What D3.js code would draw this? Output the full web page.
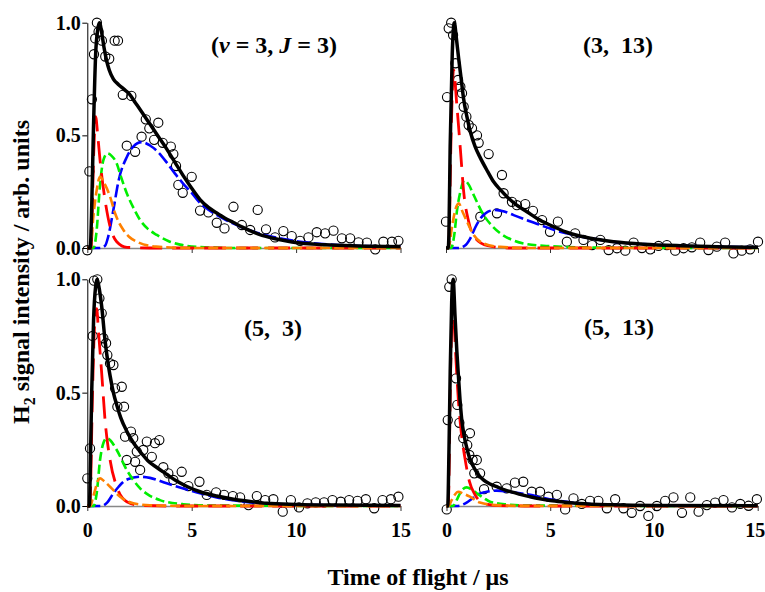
<!DOCTYPE html>
<html><head><meta charset="utf-8">
<script src="https://cdn.jsdelivr.net/npm/d3@7"></script>
<style>
body{margin:0;background:#fff}
svg{display:block}
text{font-family:"Liberation Serif","Times New Roman",serif;font-weight:bold;white-space:pre}
</style></head><body>
<svg id="c" width="765" height="592"></svg>
<script>
// ---------- tick labels ----------
const xTicks = [0, 5, 10, 15];
const yTicks = [0, 0.5, 1.0];
const panelTitles = ["(v = 3, J = 3)", "(3,  13)", "(5,  3)", "(5,  13)"];
const xTitle = "Time of flight / \u03bcs";
const yTitle = ["H", "2", " signal intensity / arb. units"];

// ---------- panel 1: (v=3, J=3) ----------
const p1Data = [[0.0,-0.01],[0.1,0.34],[0.22,0.66],[0.32,0.86],[0.38,0.93],[0.46,1.0],[0.54,0.96],[0.70,0.92],[0.86,0.85],[1.05,0.84],[1.31,0.92],[1.47,0.92],[1.70,0.68],[1.89,0.454],[2.11,0.675],[2.29,0.427],[2.6,0.494],[2.8,0.571],[2.97,0.531],[3.2,0.48],[3.4,0.556],[3.61,0.467],[4.0,0.45],[4.12,0.417],[4.25,0.364],[4.36,0.28],[4.57,0.245],[5.0,0.316],[5.4,0.166],[5.8,0.158],[6.2,0.112],[6.57,0.087],[7.0,0.183],[7.4,0.102],[7.8,0.08],[8.16,0.169],[8.56,0.083],[8.99,0.047],[9.39,0.075],[9.79,0.053],[10.19,0.032],[10.59,0.047],[10.99,0.07],[11.39,0.065],[11.79,0.077],[12.19,0.043],[12.59,0.043],[12.99,0.025],[13.39,0.024],[13.79,-0.006],[14.18,0.028],[14.59,0.028],[14.9,0.032]];
const p1Total = [[0,0],[0.14,0],[0.2,0.14],[0.29,0.51],[0.4,0.86],[0.5,0.97],[0.58,1.0],[0.7,0.95],[0.8,0.89],[0.93,0.83],[1.05,0.79],[1.25,0.75],[1.5,0.725],[1.75,0.705],[2.0,0.685],[2.3,0.645],[2.6,0.605],[3.0,0.55],[3.4,0.495],[3.8,0.44],[4.2,0.38],[4.6,0.32],[5.0,0.265],[5.4,0.215],[5.8,0.18],[6.2,0.155],[6.6,0.132],[7.0,0.113],[7.4,0.094],[8.2,0.062],[9.0,0.041],[9.8,0.027],[11.4,0.014],[13,0.009],[15,0.006]];
const p1Red = [[0,0],[0.18,0],[0.3,0.4],[0.4,0.583],[0.5,0.5],[0.61,0.39],[0.85,0.213],[1.09,0.095],[1.41,0.028],[1.9,0.003],[3,0],[15,0]];
const p1Orange = [[0,0],[0.15,0],[0.29,0.14],[0.45,0.257],[0.61,0.316],[0.8,0.29],[1.09,0.228],[1.33,0.154],[1.73,0.08],[2.0,0.05],[2.37,0.028],[3.3,0.006],[5,0],[15,0]];
const p1Green = [[0,0],[0.3,0],[0.45,0.08],[0.6,0.27],[0.77,0.39],[0.96,0.42],[1.15,0.41],[1.41,0.375],[1.6,0.32],[1.89,0.243],[2.2,0.18],[2.53,0.124],[2.9,0.085],[3.33,0.058],[3.9,0.03],[4.44,0.015],[5.4,0.004],[7,0],[15,0]];
const p1Blue = [[0,0],[0.6,0],[0.85,0.01],[1.0,0.05],[1.25,0.17],[1.5,0.3],[1.9,0.405],[2.2,0.45],[2.6,0.47],[3.0,0.455],[3.4,0.425],[3.8,0.38],[4.2,0.33],[4.6,0.285],[5.0,0.245],[5.4,0.2],[5.8,0.17],[6.2,0.147],[6.6,0.126],[7.0,0.108],[7.8,0.078],[8.6,0.055],[9.4,0.04],[10.2,0.028],[11.8,0.014],[13,0.009],[15,0.006]];

// ---------- panel 2: (3, 13) ----------
const p2Data = [[0,0.117],[0.05,0.67],[0.13,0.975],[0.25,1.0],[0.34,0.945],[0.45,0.82],[0.58,0.746],[0.69,0.716],[0.77,0.687],[0.85,0.627],[0.98,0.583],[1.09,0.546],[1.25,0.531],[1.49,0.50],[1.57,0.467],[1.65,0.139],[2.05,0.417],[2.45,0.154],[2.69,0.324],[2.77,0.243],[3.17,0.205],[3.41,0.19],[3.81,0.195],[4.18,0.165],[4.62,0.124],[5.0,0.072],[5.38,0.117],[5.81,0.028],[6.21,0.065],[6.61,0.036],[7.02,0.013],[7.42,0.036],[7.82,-0.009],[8.22,-0.001],[8.62,-0.012],[9.02,0.024],[9.42,0],[9.82,-0.006],[10.22,0.009],[10.62,0.013],[11.02,-0.012],[11.42,-0.001],[11.82,0.003],[12.22,0.024],[12.62,-0.009],[13.02,0.006],[13.42,0.024],[13.82,-0.024],[14.22,-0.012],[14.62,-0.006],[15,0.028]];
const p2Total = [[0,0],[0.11,0],[0.14,0.06],[0.2,0.45],[0.3,0.86],[0.4,1.0],[0.5,0.93],[0.61,0.84],[0.73,0.75],[0.85,0.66],[1.0,0.585],[1.17,0.516],[1.4,0.45],[1.65,0.40],[2.0,0.34],[2.29,0.294],[2.6,0.26],[2.93,0.228],[3.4,0.19],[3.89,0.161],[4.4,0.13],[5.0,0.102],[5.8,0.07],[6.94,0.043],[8.06,0.028],[9.5,0.017],[11.27,0.01],[13,0.006],[15,0.003]];
const p2Red = [[0,0],[0.12,0],[0.25,0.52],[0.36,0.79],[0.52,0.635],[0.69,0.44],[0.85,0.25],[1.09,0.117],[1.41,0.043],[2.0,0.01],[3,0],[15,0]];
const p2Orange = [[0,0],[0.12,0],[0.29,0.095],[0.45,0.17],[0.61,0.198],[0.8,0.16],[1.01,0.117],[1.33,0.058],[1.81,0.02],[2.6,0.005],[4,0],[15,0]];
const p2Green = [[0,0],[0.25,0],[0.4,0.06],[0.52,0.16],[0.69,0.25],[0.88,0.30],[1.1,0.28],[1.33,0.235],[1.81,0.146],[2.2,0.1],[2.61,0.065],[3.2,0.035],[3.73,0.02],[5,0.008],[7,0.002],[15,0]];
const p2Blue = [[0,0],[0.6,0],[0.9,0.01],[1.17,0.043],[1.4,0.09],[1.65,0.13],[2.0,0.16],[2.37,0.169],[2.8,0.162],[3.25,0.146],[3.9,0.123],[4.53,0.102],[5.2,0.08],[5.81,0.065],[6.94,0.043],[8,0.028],[9.5,0.017],[11.3,0.01],[13,0.006],[15,0.003]];

// ---------- panel 3: (5, 3) ----------
const p3Data = [[0,0.122],[0.13,0.254],[0.26,0.75],[0.32,0.994],[0.48,1.0],[0.58,0.916],[0.69,0.85],[0.77,0.74],[0.9,0.718],[0.96,0.666],[1.09,0.629],[1.25,0.622],[1.33,0.519],[1.44,0.438],[1.65,0.526],[1.76,0.438],[1.81,0.306],[1.89,0.203],[2.09,0.328],[2.2,0.299],[2.29,0.195],[2.37,0.24],[2.53,0.159],[2.68,0.247],[2.85,0.284],[3.09,0.217],[3.24,0.277],[3.45,0.291],[3.64,0.171],[3.88,0.144],[4.12,0.115],[4.52,0.151],[4.84,0.088],[5.37,0.107],[5.72,0.049],[6.17,0.06],[6.55,0.049],[6.97,0.044],[7.32,0.038],[7.72,0.004],[8.12,0.044],[8.52,0.026],[8.91,0.03],[9.36,-0.025],[9.75,0.026],[10.14,-0.006],[10.54,0.012],[10.94,0.016],[11.34,0.016],[11.74,0.026],[12.14,0.019],[12.54,0.026],[12.94,0.023],[13.34,0.03],[13.74,-0.01],[14.14,0.026],[14.54,0.03],[14.9,0.041]];
const p3Total = [[0,0],[0.1,0],[0.15,0.2],[0.21,0.497],[0.3,0.82],[0.4,0.97],[0.47,1.0],[0.55,0.97],[0.69,0.88],[0.85,0.73],[1.0,0.625],[1.09,0.575],[1.25,0.5],[1.41,0.445],[1.6,0.39],[1.89,0.33],[2.2,0.28],[2.53,0.24],[2.9,0.2],[3.33,0.17],[3.8,0.14],[4.28,0.11],[4.8,0.085],[5.4,0.063],[6.2,0.044],[7.0,0.03],[7.8,0.02],[8.6,0.012],[10,0.007],[11.8,0.004],[15,0.002]];
const p3Red = [[0,0],[0.12,0],[0.25,0.5],[0.35,0.8],[0.45,0.87],[0.53,0.776],[0.69,0.585],[0.85,0.379],[1.09,0.203],[1.41,0.085],[1.89,0.019],[2.5,0.003],[4,0],[15,0]];
const p3Orange = [[0,0],[0.15,0],[0.25,0.03],[0.37,0.07],[0.5,0.11],[0.61,0.122],[0.8,0.11],[1.09,0.085],[1.57,0.041],[2.2,0.012],[3,0.003],[5,0],[15,0]];
const p3Green = [[0,0],[0.3,0],[0.45,0.056],[0.61,0.203],[0.78,0.28],[0.93,0.299],[1.1,0.29],[1.41,0.247],[1.89,0.159],[2.2,0.115],[2.53,0.078],[3,0.045],[3.48,0.026],[4.6,0.008],[6,0.002],[15,0]];
const p3Blue = [[0,0],[0.65,0],[0.95,0.015],[1.25,0.056],[1.5,0.085],[1.73,0.107],[2.1,0.123],[2.53,0.129],[3.0,0.124],[3.8,0.1],[4.6,0.077],[5.4,0.056],[6.2,0.038],[7.0,0.025],[8.6,0.01],[10,0.006],[12,0.003],[15,0.002]];

// ---------- panel 4: (5, 13) ----------
const p4Data = [[0.01,-0.015],[0.06,0.379],[0.135,0.967],[0.25,1.0],[0.46,0.563],[0.52,0.446],[0.62,0.367],[0.81,0.299],[1.13,0.321],[1.0,0.269],[1.1,0.225],[1.26,0.203],[1.46,0.203],[1.34,0.144],[1.62,0.144],[1.81,0.074],[2.42,0.085],[2.9,0.078],[3.3,0.103],[3.7,0.107],[4.11,0.063],[4.51,0.063],[4.91,0.041],[5.32,0.049],[5.72,-0.015],[6.12,0.034],[6.52,0.009],[6.92,0.023],[7.32,0.023],[7.73,-0.01],[8.13,0.03],[8.53,-0.01],[8.93,-0.03],[9.33,0],[9.73,-0.044],[10.14,0],[10.54,0.023],[10.94,0.038],[11.35,-0.03],[11.75,0.038],[12.15,-0.025],[12.55,0.004],[12.95,0.015],[13.35,0.026],[13.76,-0.006],[14.16,0.009],[14.56,0.001],[14.96,0.03]];
const p4Total = [[0,0],[0.06,0],[0.12,0.25],[0.18,0.6],[0.25,0.9],[0.32,1.0],[0.41,0.84],[0.5,0.68],[0.57,0.58],[0.65,0.47],[0.73,0.385],[0.85,0.31],[0.97,0.26],[1.1,0.215],[1.29,0.175],[1.5,0.142],[1.78,0.115],[2.1,0.097],[2.42,0.085],[2.8,0.071],[3.22,0.06],[3.6,0.05],[4.03,0.041],[4.5,0.032],[5.0,0.024],[5.7,0.017],[6.44,0.011],[8,0.005],[10,0.002],[15,0.001]];
const p4Red = [[0,0],[0.08,0],[0.2,0.6],[0.3,0.9],[0.4,0.75],[0.46,0.64],[0.57,0.47],[0.73,0.31],[0.89,0.21],[1.1,0.11],[1.37,0.05],[1.78,0.012],[2.5,0.002],[4,0],[15,0]];
const p4Orange = [[0,0],[0.1,0],[0.25,0.026],[0.4,0.05],[0.57,0.063],[0.8,0.055],[1.13,0.041],[1.61,0.015],[2.4,0.004],[4,0],[15,0]];
const p4Green = [[0,0],[0.3,0],[0.49,0.026],[0.65,0.056],[0.8,0.075],[0.97,0.082],[1.2,0.073],[1.46,0.056],[1.8,0.035],[2.1,0.019],[2.9,0.007],[4,0.002],[15,0]];
const p4Blue = [[0,0],[0.5,0],[0.97,0.015],[1.2,0.03],[1.46,0.049],[1.9,0.062],[2.42,0.068],[3.2,0.061],[4.03,0.049],[4.6,0.037],[5.2,0.026],[6.4,0.012],[8,0.005],[10,0.002],[15,0.001]];

// ---------- assemble ----------
const panelSeries = [
  {data:p1Data, total:p1Total, red:p1Red, orange:p1Orange, green:p1Green, blue:p1Blue},
  {data:p2Data, total:p2Total, red:p2Red, orange:p2Orange, green:p2Green, blue:p2Blue},
  {data:p3Data, total:p3Total, red:p3Red, orange:p3Orange, green:p3Green, blue:p3Blue},
  {data:p4Data, total:p4Total, red:p4Red, orange:p4Orange, green:p4Green, blue:p4Blue}
];
const layout = [
  {x0:87.3, x1:400.5, yTop:22.7, yBase:248, showY:true,  showXL:false, tx:274, ty:53},
  {x0:446,  x1:758,   yTop:22.7, yBase:248, showY:false, showXL:false, tx:618, ty:53},
  {x0:87.3, x1:400.5, yTop:279.3, yBase:506, showY:true,  showXL:true,  tx:273, ty:336},
  {x0:446.5,x1:757.7, yTop:279.3, yBase:506, showY:false, showXL:true,  tx:619, ty:335}
];
const styles = {
  blue:  {color:"#0000ff", w:2.6, dash:"13,4"},
  green: {color:"#00ee00", w:2.6, dash:"9,4"},
  orange:{color:"#ff8000", w:2.6, dash:"10,4"},
  red:   {color:"#ff0000", w:2.8, dash:"22,10"},
  total: {color:"#000000", w:3.5, dash:null}
};

const svg = d3.select("#c");

panelSeries.forEach((ps, i) => {
  const L = layout[i];
  const x = d3.scaleLinear().domain([0, 15]).range([L.x0, L.x1]);
  const y = d3.scaleLinear().domain([0, 1]).range([L.yBase, L.yTop]);
  const g = svg.append("g");

  // x axis
  const xa = d3.axisBottom(x).tickValues(xTicks).tickSize(5).tickSizeOuter(0).tickPadding(12)
      .tickFormat(L.showXL ? d3.format("d") : () => "");
  const gx = g.append("g").attr("transform", `translate(0,${L.yBase})`).call(xa);
  gx.select(".domain").attr("stroke", "#888").attr("stroke-width", 1.6);
  gx.selectAll(".tick line").attr("stroke", "#333");
  gx.selectAll("text").attr("font-size", 20).attr("fill", "#000")
    .style("font-family", '"Liberation Serif",serif').style("font-weight", "bold");
  // keep the right-most label of the right column inside the 765px frame
  if (L.x1 > 750) {
    gx.selectAll(".tick text").filter(d => d === 15).attr("text-anchor", "end").attr("x", 7);
  }

  // y axis
  if (L.showY) {
    const ya = d3.axisLeft(y).tickValues(yTicks).tickSize(5).tickSizeOuter(0).tickPadding(1.5)
        .tickFormat(d3.format(".1f"));
    const gy = g.append("g").attr("transform", `translate(${L.x0},0)`).call(ya);
    gy.select(".domain").attr("stroke", "#000").attr("stroke-width", 1);
    gy.selectAll(".tick line").attr("stroke", "#000");
    gy.selectAll("text").attr("font-size", 20).attr("fill", "#000")
      .style("font-family", '"Liberation Serif",serif').style("font-weight", "bold");
  }

  // data circles
  g.append("g").selectAll("circle").data(ps.data).join("circle")
    .attr("cx", d => x(d[0])).attr("cy", d => y(d[1])).attr("r", 4.6)
    .attr("fill", "none").attr("stroke", "#000").attr("stroke-width", 1.1);

  const line = d3.line().x(d => x(d[0])).y(d => y(d[1])).curve(d3.curveMonotoneX);
  ["blue", "green", "red", "orange", "total"].forEach(k => {
    const s = styles[k];
    g.append("path").datum(ps[k]).attr("d", line)
      .attr("fill", "none").attr("stroke", s.color).attr("stroke-width", s.w)
      .attr("stroke-dasharray", s.dash).attr("stroke-linejoin", "round");
  });

  // panel title
  const t = g.append("text").attr("x", L.tx).attr("y", L.ty).attr("text-anchor", "middle")
    .attr("font-size", 24);
  if (i === 0) {
    t.append("tspan").text("(");
    t.append("tspan").attr("font-style", "italic").text("v");
    t.append("tspan").text(" = 3, ");
    t.append("tspan").attr("font-style", "italic").text("J");
    t.append("tspan").text(" = 3)");
  } else {
    t.text(panelTitles[i]);
  }
});

// axis titles
svg.append("text").attr("x", 418).attr("y", 585).attr("text-anchor", "middle")
  .attr("font-size", 24).text(xTitle);

const yt = svg.append("text").attr("transform", "translate(29,272) rotate(-90)")
  .attr("text-anchor", "middle").attr("font-size", 24);
yt.append("tspan").text(yTitle[0]);
yt.append("tspan").attr("font-size", 16).attr("dy", 6).text(yTitle[1]);
yt.append("tspan").attr("dy", -6).text(yTitle[2]);
</script></body></html>
